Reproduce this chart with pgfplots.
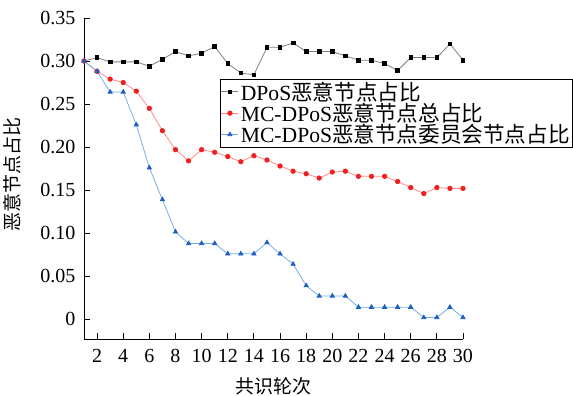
\documentclass[border=0pt]{standalone}
\usepackage{pgfplots}
\pgfplotsset{compat=1.18}
\usepackage{fontspec}
\setmainfont{Liberation Serif}
\newfontfamily\cjk{Noto Sans CJK SC}
\definecolor{dline}{HTML}{808080}
\definecolor{rline}{HTML}{FF8A8A}
\definecolor{rmark}{HTML}{F02020}
\definecolor{bline}{HTML}{74AEE8}
\definecolor{bmark}{HTML}{1F5FBF}
\begin{document}
\begin{tikzpicture}
\begin{axis}[
  name=ax,
  scale only axis, width=379pt, height=321pt,
  xmin=1, xmax=30, ymin=-0.023, ymax=0.35,
  axis x line*=bottom, axis y line*=left,
  axis line style={-, line width=0.9pt},
  xtick={2,4,...,30},
  ytick={0,0.05,0.10,0.15,0.20,0.25,0.30,0.35},
  yticklabels={0,0.05,0.10,0.15,0.20,0.25,0.30,0.35},
  tick align=inside, major tick length=6pt,
  tick style={black, line width=0.9pt},
  /pgf/number format/assume math mode=true,
  ticklabel style={font=\fontsize{20}{20}\selectfont},
  xticklabel style={yshift=-7pt},
  yticklabel style={xshift=-5pt},
  xlabel={\cjk 共识轮次}, ylabel={\cjk 恶意节点占比},
  label style={font=\fontsize{19}{19}\selectfont},
  xlabel style={at={(axis description cs:0.5,0)}, anchor=north, yshift=-35pt},
  ylabel style={at={(axis description cs:0,0.5)}, anchor=south, yshift=59pt, xshift=4pt},
  legend style={at={(0.359,0.81)}, anchor=north west, draw=black, line width=0.9pt,
    font=\fontsize{21.6}{21.6}\selectfont, inner sep=0.5pt, row sep=-2.5pt},
  legend cell align=left,
  legend image post style={line width=0.8pt},
]
\addplot[dline, line width=0.8pt, mark=square*, mark size=1.8pt, mark options={black, fill=black}] coordinates {
(1,0.300)(2,0.304)(3,0.299)(4,0.299)(5,0.299)(6,0.294)(7,0.302)(8,0.311)(9,0.306)(10,0.309)
(11,0.317)(12,0.297)(13,0.286)(14,0.284)(15,0.316)(16,0.316)(17,0.321)(18,0.311)(19,0.311)(20,0.311)
(21,0.306)(22,0.301)(23,0.301)(24,0.297)(25,0.289)(26,0.304)(27,0.304)(28,0.304)(29,0.320)(30,0.301)};
\addlegendentry{DPoS{\cjk 恶意节点占比}}
\addplot[rline, line width=0.8pt, mark=*, mark size=2.2pt, mark options={rmark, fill=rmark}] coordinates {
(1,0.300)(2,0.288)(3,0.279)(4,0.275)(5,0.265)(6,0.245)(7,0.219)(8,0.197)(9,0.184)(10,0.197)
(11,0.194)(12,0.189)(13,0.183)(14,0.190)(15,0.185)(16,0.178)(17,0.172)(18,0.169)(19,0.164)(20,0.171)
(21,0.172)(22,0.166)(23,0.166)(24,0.166)(25,0.160)(26,0.153)(27,0.146)(28,0.153)(29,0.152)(30,0.152)};
\addlegendentry{MC-DPoS{\cjk 恶意节点总占比}}
\addplot[bline, line width=0.8pt, mark=triangle*, mark size=2.4pt, mark options={bmark, fill=bmark}] coordinates {
(1,0.300)(2,0.288)(3,0.264)(4,0.264)(5,0.226)(6,0.176)(7,0.139)(8,0.1015)(9,0.088)(10,0.088)
(11,0.088)(12,0.076)(13,0.076)(14,0.076)(15,0.089)(16,0.076)(17,0.064)(18,0.039)(19,0.027)(20,0.027)
(21,0.027)(22,0.014)(23,0.014)(24,0.014)(25,0.014)(26,0.014)(27,0.002)(28,0.002)(29,0.014)(30,0.002)};
\addlegendentry{MC-DPoS{\cjk 恶意节点委员会节点占比}}
\end{axis}
\pgfresetboundingbox
\path ([shift={(-84pt,-57pt)}]ax.south west) rectangle ([shift={(110pt,18pt)}]ax.north east);
\end{tikzpicture}
\end{document}
